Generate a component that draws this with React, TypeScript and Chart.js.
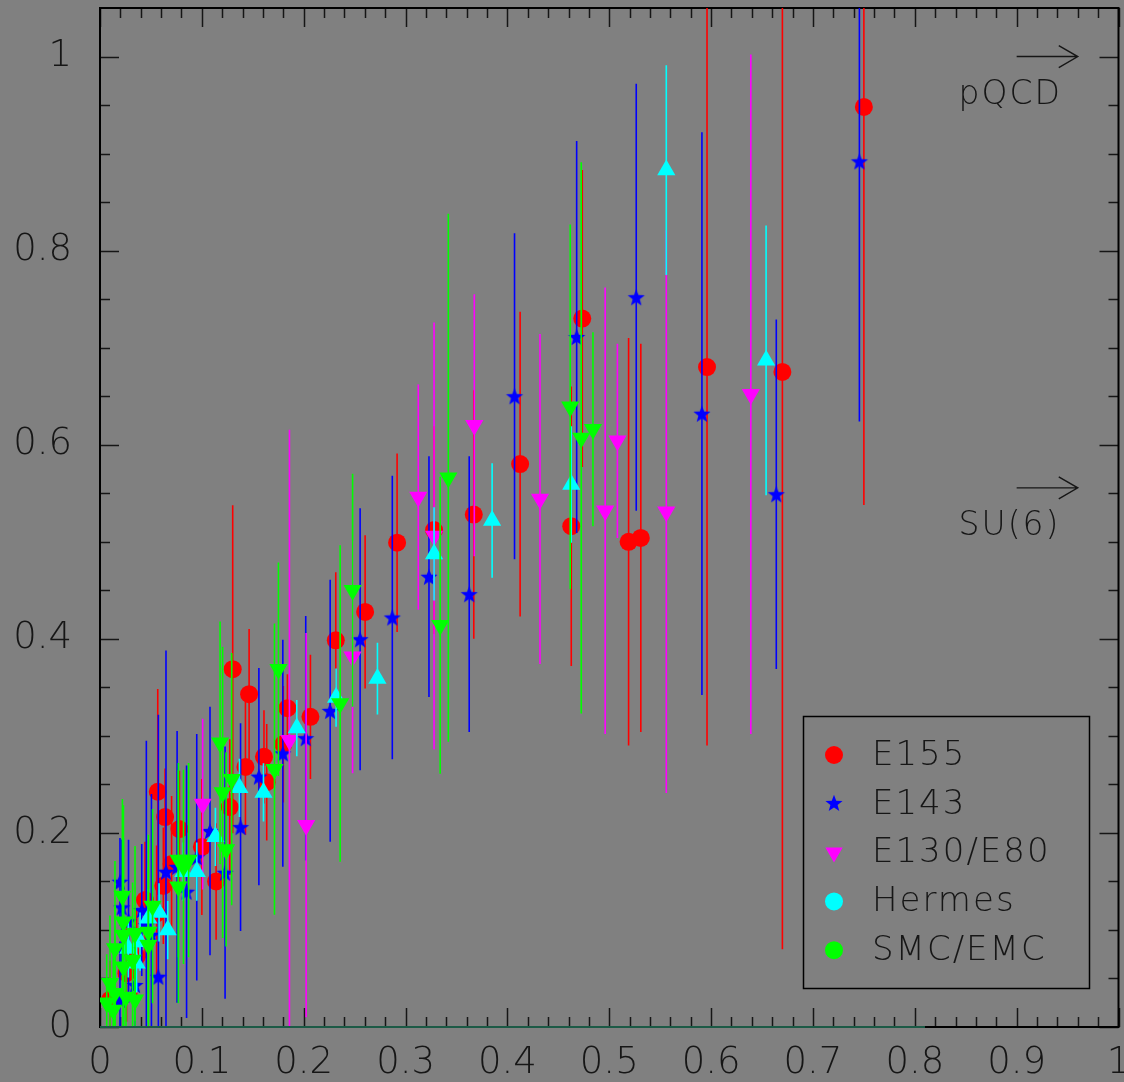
import React, { useEffect, useRef } from 'react';
import { Chart, registerables } from 'chart.js';

Chart.register(...registerables);

// ---------------- data ----------------
const e155X = [0.0098, 0.026, 0.036, 0.0442, 0.0556, 0.0622, 0.0703, 0.0567, 0.0639, 0.078, 0.1, 0.114, 0.1274, 0.1303, 0.1428, 0.1464, 0.161, 0.1637, 0.18, 0.184, 0.2066, 0.2315, 0.2603, 0.2917, 0.328, 0.367, 0.4125, 0.4627, 0.4735, 0.519, 0.531, 0.596, 0.67, 0.75];
const e155Y = [0.028, 0.0555, 0.0724, 0.1308, 0.117, 0.1455, 0.168, 0.2424, 0.2163, 0.204, 0.1855, 0.15, 0.2266, 0.3687, 0.268, 0.343, 0.2784, 0.2523, 0.2914, 0.3285, 0.3196, 0.3985, 0.4277, 0.499, 0.512, 0.528, 0.58, 0.516, 0.73, 0.5, 0.504, 0.68, 0.675, 0.948];
const e155Err = [0.04, 0.05, 0.05, 0.06, 0.07, 0.06, 0.07, 0.106, 0.05, 0.06, 0.07, 0.06, 0.07, 0.169, 0.07, 0.067, 0.048, 0.06, 0.06, 0.035, 0.064, 0.07, 0.079, 0.092, 0.107, 0.128, 0.157, 0.144, 0.153, 0.21, 0.2, 0.39, 0.595, 0.41];

const e143X = [0.0196, 0.0344, 0.028, 0.0196, 0.0213, 0.041, 0.0455, 0.0505, 0.0573, 0.0648, 0.0757, 0.085, 0.095, 0.108, 0.1228, 0.138, 0.156, 0.1795, 0.202, 0.226, 0.2554, 0.287, 0.323, 0.3625, 0.407, 0.468, 0.5265, 0.591, 0.664, 0.7456];
const e143Y = [0.028, 0.0433, 0.109, 0.1497, 0.1233, 0.1205, 0.105, 0.095, 0.0518, 0.16, 0.165, 0.1394, 0.175, 0.202, 0.159, 0.206, 0.258, 0.282, 0.2976, 0.3258, 0.3996, 0.422, 0.464, 0.446, 0.65, 0.711, 0.752, 0.632, 0.549, 0.892];
const e143Err = [0.06, 0.06, 0.084, 0.045, 0.07, 0.068, 0.19, 0.145, 0.27, 0.228, 0.14, 0.13, 0.127, 0.128, 0.13, 0.107, 0.112, 0.117, 0.126, 0.135, 0.135, 0.146, 0.124, 0.142, 0.168, 0.202, 0.22, 0.29, 0.18, 0.268];

const e130X = [0.1008, 0.186, 0.2024, 0.248, 0.3125, 0.328, 0.3675, 0.432, 0.496, 0.508, 0.556, 0.639];
const e130Y = [0.2297, 0.2955, 0.208, 0.3814, 0.546, 0.506, 0.62, 0.544, 0.532, 0.604, 0.531, 0.652];
const e130Err = [0.088, 0.32, 0.198, 0.12, 0.116, 0.22, 0.135, 0.17, 0.23, 0.1, 0.29, 0.35];

const hermesX = [0.0278, 0.036, 0.0393, 0.0475, 0.058, 0.0665, 0.0818, 0.095, 0.1133, 0.1369, 0.1605, 0.1932, 0.2318, 0.2724, 0.328, 0.385, 0.4627, 0.556, 0.654];
const hermesY = [0.081, 0.0656, 0.0879, 0.112, 0.118, 0.0999, 0.16, 0.16, 0.196, 0.2465, 0.2417, 0.308, 0.3395, 0.359, 0.4875, 0.522, 0.559, 0.883, 0.687];
const hermesErr = [0.03, 0.03, 0.03, 0.03, 0.03, 0.03, 0.03, 0.03, 0.03, 0.03, 0.03, 0.029, 0.03, 0.037, 0.048, 0.059, 0.06, 0.108, 0.139];

const smcX = [0.0066, 0.013, 0.0098, 0.0147, 0.0255, 0.0344, 0.023, 0.032, 0.0147, 0.0475, 0.023, 0.0344, 0.0475, 0.023, 0.0516, 0.022, 0.0769, 0.077, 0.082, 0.087, 0.1238, 0.1204, 0.1179, 0.1293, 0.1713, 0.1752, 0.2358, 0.248, 0.334, 0.342, 0.4617, 0.4725, 0.484];
const smcY = [0.025, 0.0175, 0.045, 0.0347, 0.031, 0.028, 0.062, 0.069, 0.081, 0.0845, 0.0947, 0.0965, 0.098, 0.1085, 0.1246, 0.135, 0.1445, 0.172, 0.165, 0.172, 0.183, 0.2417, 0.2928, 0.2554, 0.2657, 0.3687, 0.3334, 0.45, 0.414, 0.566, 0.639, 0.607, 0.616];
const smcErr = [0.05, 0.06, 0.07, 0.09, 0.06, 0.07, 0.08, 0.08, 0.09, 0.08, 0.1, 0.09, 0.1, 0.12, 0.1, 0.1, 0.12, 0.1, 0.1, 0.1, 0.1, 0.15, 0.125, 0.13, 0.15, 0.11, 0.163, 0.12, 0.153, 0.272, 0.188, 0.284, 0.1];

const zeroLineX = [0, 0.81];
const zeroLineY = [0, 0];

const xTickValues = [0, 0.1, 0.2, 0.3, 0.4, 0.5, 0.6, 0.7, 0.8, 0.9, 1];
const yTickValues = [0, 0.2, 0.4, 0.6, 0.8, 1];
const legendLabels = ['E155', 'E143', 'E130/E80', 'Hermes', 'SMC/EMC'];
const limitLabels = ['pQCD', 'SU(6)'];
const limitValues = [1, 5 / 9];

// ---------------- style ----------------
const BG = '#808080';
const INK = '#161616';
const FONT = '"DejaVu Sans", sans-serif';
const WEIGHT = '200';
const RED = '#ff0000';
const BLUE = '#0000ff';
const MAGENTA = '#ff00ff';
const CYAN = '#00ffff';
const GREEN = '#00ff00';

function makeStar(color: string, R: number): HTMLCanvasElement {
  const c = document.createElement('canvas');
  const s = Math.ceil(R * 2 + 2);
  c.width = s;
  c.height = s;
  const ctx = c.getContext('2d')!;
  ctx.fillStyle = color;
  ctx.beginPath();
  const cx = s / 2;
  const cy = s / 2 + R * 0.1;
  for (let i = 0; i < 10; i++) {
    const r = i % 2 === 0 ? R : R * 0.42;
    const a = -Math.PI / 2 + (i * Math.PI) / 5;
    const px = cx + r * Math.cos(a);
    const py = cy + r * Math.sin(a);
    if (i === 0) ctx.moveTo(px, py);
    else ctx.lineTo(px, py);
  }
  ctx.closePath();
  ctx.fill();
  return c;
}

const pts = (xs: number[], ys: number[]) => xs.map((x, i) => ({ x, y: ys[i] }));
const fmt = (v: number) => (Math.abs(v) < 1e-9 ? '0' : Math.abs(v - 1) < 1e-9 ? '1' : v.toFixed(1));

const bgPlugin = {
  id: 'bg',
  beforeDraw(chart: any) {
    const { ctx, width, height } = chart;
    ctx.save();
    ctx.fillStyle = BG;
    ctx.fillRect(0, 0, width, height);
    ctx.restore();
  },
};

const framePlugin = {
  id: 'frame',
  beforeDatasetsDraw(chart: any) {
    const { ctx, chartArea, scales } = chart;
    const { left, right, top, bottom } = chartArea;
    const xs = scales.x;
    const ys = scales.y;
    ctx.save();
    ctx.strokeStyle = INK;
    ctx.lineWidth = 1.5;
    for (let i = 0; i <= 50; i++) {
      const px = Math.round(xs.getPixelForValue(i / 50)) + 0.5;
      const len = i % 5 === 0 ? 19 : 10;
      ctx.beginPath();
      ctx.moveTo(px, bottom);
      ctx.lineTo(px, bottom - len);
      ctx.moveTo(px, top);
      ctx.lineTo(px, top + len);
      ctx.stroke();
    }
    for (let i = 0; i <= 20; i++) {
      const py = Math.round(ys.getPixelForValue(i * 0.05)) + 0.5;
      const len = i % 4 === 0 ? 19 : 10;
      ctx.beginPath();
      ctx.moveTo(left, py);
      ctx.lineTo(left + len, py);
      ctx.moveTo(right, py);
      ctx.lineTo(right - len, py);
      ctx.stroke();
    }
    ctx.lineWidth = 2;
    ctx.strokeStyle = '#000';
    ctx.strokeRect(left, top, right - left, bottom - top);
    ctx.restore();
  },
};

const errorBarPlugin = {
  id: 'errbars',
  beforeDatasetDraw(chart: any, args: any) {
    const ds = chart.data.datasets[args.index];
    if (!ds.errors) return;
    const { ctx, chartArea, scales } = chart;
    ctx.save();
    ctx.beginPath();
    ctx.rect(chartArea.left, chartArea.top, chartArea.right - chartArea.left, chartArea.bottom - chartArea.top);
    ctx.clip();
    ctx.strokeStyle = ds.backgroundColor;
    ctx.lineWidth = 1.6;
    ds.data.forEach((p: any, i: number) => {
      const e = ds.errors[i];
      const px = scales.x.getPixelForValue(p.x);
      ctx.beginPath();
      ctx.moveTo(px, scales.y.getPixelForValue(p.y - e));
      ctx.lineTo(px, scales.y.getPixelForValue(p.y + e));
      ctx.stroke();
    });
    ctx.restore();
  },
};

function drawMarker(ctx: CanvasRenderingContext2D, kind: string, color: string, x: number, y: number, r: number) {
  ctx.fillStyle = color;
  ctx.beginPath();
  if (kind === 'circle') {
    ctx.arc(x, y, r, 0, Math.PI * 2);
  } else if (kind === 'down') {
    ctx.moveTo(x, y + r);
    ctx.lineTo(x - r * Math.sin(Math.PI / 3), y - r / 2);
    ctx.lineTo(x + r * Math.sin(Math.PI / 3), y - r / 2);
    ctx.closePath();
  } else if (kind === 'star') {
    for (let i = 0; i < 10; i++) {
      const rr = i % 2 === 0 ? r : r * 0.42;
      const a = -Math.PI / 2 + (i * Math.PI) / 5;
      const px = x + rr * Math.cos(a);
      const py = y + rr * Math.sin(a);
      if (i === 0) ctx.moveTo(px, py);
      else ctx.lineTo(px, py);
    }
    ctx.closePath();
  }
  ctx.fill();
}

const legendPlugin = {
  id: 'customLegend',
  afterDraw(chart: any) {
    const { ctx } = chart;
    const boxL = 803;
    const boxT = 716;
    const boxW = 286;
    const boxH = 272;
    const kinds = ['circle', 'star', 'down', 'circle', 'circle'];
    const colors = [RED, BLUE, MAGENTA, CYAN, GREEN];
    ctx.save();
    ctx.strokeStyle = '#000';
    ctx.lineWidth = 1.5;
    ctx.strokeRect(boxL + 0.5, boxT + 0.5, boxW, boxH);
    ctx.font = `${WEIGHT} 34px ${FONT}`;
    (ctx as any).letterSpacing = '2px';
    ctx.textBaseline = 'middle';
    ctx.textAlign = 'left';
    legendLabels.forEach((lab, i) => {
      const yy = boxT + 39 + i * 48.8;
      drawMarker(ctx, kinds[i], colors[i], boxL + 31, yy, kinds[i] === 'circle' ? 9 : kinds[i] === 'star' ? 9 : 10);
      ctx.fillStyle = INK;
      ctx.fillText(lab, boxL + 69, yy + 1);
    });
    ctx.restore();
  },
};

const limitsPlugin = {
  id: 'limits',
  afterDraw(chart: any) {
    const { ctx, scales } = chart;
    ctx.save();
    ctx.strokeStyle = INK;
    ctx.lineWidth = 1.4;
    ctx.fillStyle = INK;
    ctx.font = `${WEIGHT} 33px ${FONT}`;
    (ctx as any).letterSpacing = '2px';
    ctx.textBaseline = 'middle';
    ctx.textAlign = 'left';
    limitValues.forEach((v, i) => {
      const py = scales.y.getPixelForValue(v);
      const x0 = scales.x.getPixelForValue(0.9);
      const x1 = scales.x.getPixelForValue(0.96);
      ctx.beginPath();
      ctx.moveTo(x0, py);
      ctx.lineTo(x1, py);
      ctx.moveTo(x1 - 19, py - 11);
      ctx.lineTo(x1, py);
      ctx.lineTo(x1 - 19, py + 11);
      ctx.stroke();
      ctx.fillText(limitLabels[i], scales.x.getPixelForValue(0.843), py + 39);
    });
    ctx.restore();
  },
};

export default function App() {
  const ref = useRef<HTMLCanvasElement>(null);

  useEffect(() => {
    if (!ref.current) return;
    const star = makeStar(BLUE, 9);
    const chart = new Chart(ref.current, {
      type: 'scatter',
      data: {
        datasets: [
          {
            type: 'line',
            label: 'zero',
            data: pts(zeroLineX, zeroLineY),
            borderColor: '#1c5a46',
            borderWidth: 2,
            pointRadius: 0,
            showLine: true,
            clip: 4,
            order: 0,
          } as any,
          {
            label: legendLabels[0],
            data: pts(e155X, e155Y),
            errors: e155Err,
            pointStyle: 'circle',
            pointRadius: 9,
            backgroundColor: RED,
            borderWidth: 0,
            order: 5,
          } as any,
          {
            label: legendLabels[1],
            data: pts(e143X, e143Y),
            errors: e143Err,
            pointStyle: star,
            pointRadius: 9,
            backgroundColor: BLUE,
            borderWidth: 0,
            order: 4,
          } as any,
          {
            label: legendLabels[2],
            data: pts(e130X, e130Y),
            errors: e130Err,
            pointStyle: 'triangle',
            pointRotation: 180,
            pointRadius: 10.5,
            backgroundColor: MAGENTA,
            borderWidth: 0,
            order: 3,
          } as any,
          {
            label: legendLabels[3],
            data: pts(hermesX, hermesY),
            errors: hermesErr,
            pointStyle: 'triangle',
            pointRadius: 10.5,
            backgroundColor: CYAN,
            borderWidth: 0,
            order: 2,
          } as any,
          {
            label: legendLabels[4],
            data: pts(smcX, smcY),
            errors: smcErr,
            pointStyle: 'triangle',
            pointRotation: 180,
            pointRadius: 10.5,
            backgroundColor: GREEN,
            borderWidth: 0,
            order: 1,
          } as any,
        ],
      },
      options: {
        responsive: false,
        animation: false,
        events: [],
        layout: { autoPadding: false, padding: { left: 0, right: 5.5, top: 8, bottom: 0 } },
        plugins: { legend: { display: false }, tooltip: { enabled: false } },
        scales: {
          x: {
            type: 'linear',
            min: 0,
            max: 1,
            grid: { display: false, drawTicks: false },
            border: { display: false },
            afterBuildTicks: (s: any) => {
              s.ticks = xTickValues.map((v) => ({ value: v }));
            },
            afterFit: (s: any) => {
              s.height = 55;
              s.paddingLeft = 0;
              s.paddingRight = 0;
            },
            ticks: {
              autoSkip: false,
              maxRotation: 0,
              minRotation: 0,
              padding: 14,
              color: INK,
              font: { family: FONT, size: 37, weight: WEIGHT as any },
              callback: (v: any) => fmt(Number(v)),
            },
          },
          y: {
            type: 'linear',
            min: 0,
            max: 1.05,
            grid: { display: false, drawTicks: false },
            border: { display: false },
            afterBuildTicks: (s: any) => {
              s.ticks = yTickValues.map((v) => ({ value: v }));
            },
            afterFit: (s: any) => {
              s.width = 100;
              s.paddingTop = 0;
              s.paddingBottom = 0;
            },
            ticks: {
              padding: 28,
              color: INK,
              font: { family: FONT, size: 37, weight: WEIGHT as any },
              callback: (v: any) => fmt(Number(v)),
            },
          },
        },
      },
      plugins: [bgPlugin, framePlugin, errorBarPlugin, legendPlugin, limitsPlugin],
    });
    return () => chart.destroy();
  }, []);

  return (
    <div style={{ position: 'absolute', left: 0, top: 0, width: 1124, height: 1082, background: BG, overflow: 'hidden' }}>
      <canvas ref={ref} width={1124} height={1082} style={{ display: 'block' }} />
    </div>
  );
}
